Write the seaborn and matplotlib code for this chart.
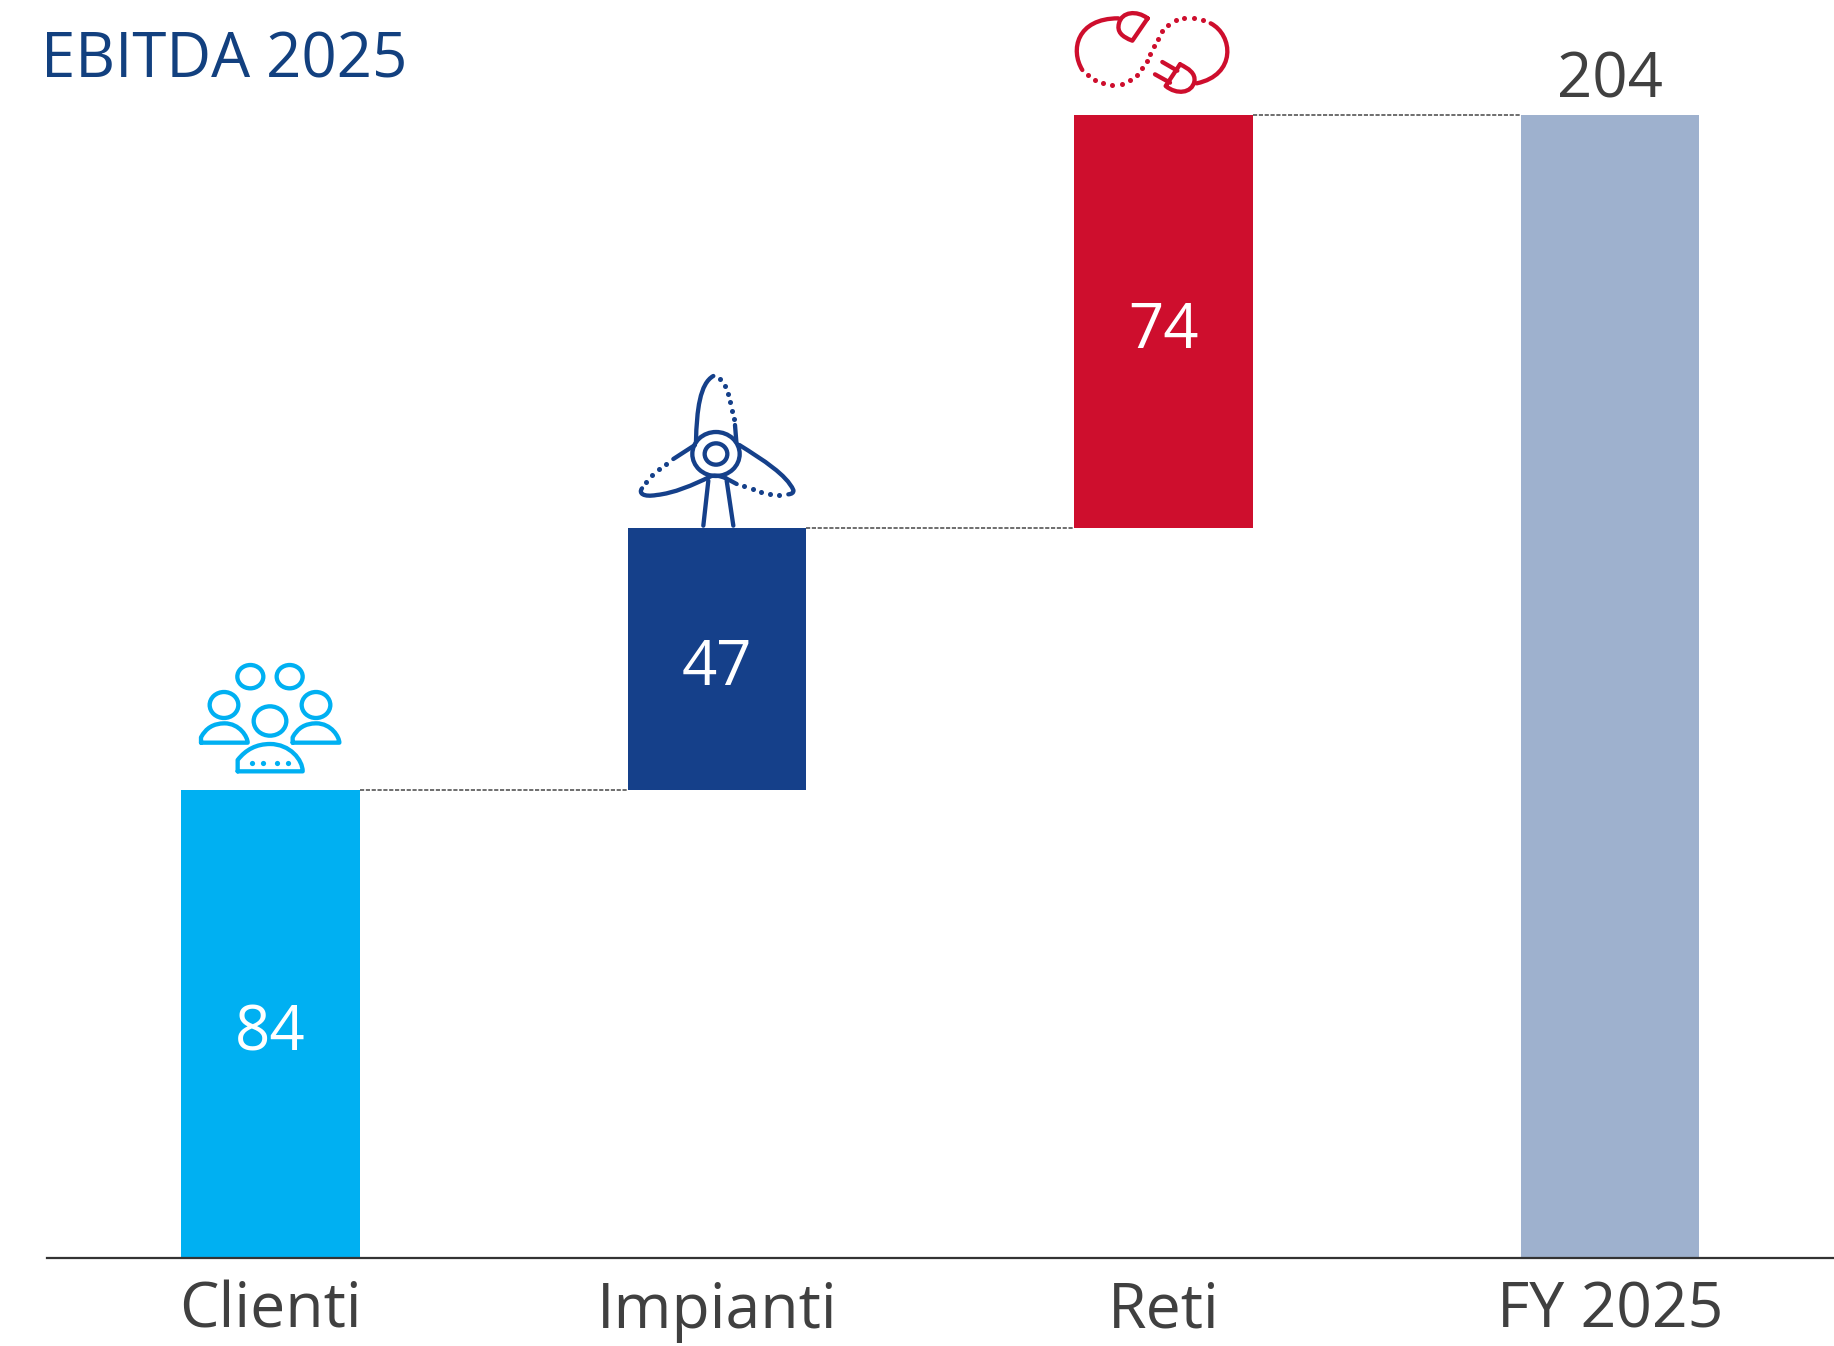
# EBITDA 2025 waterfall
import pandas as pd
import seaborn as sns
import matplotlib.pyplot as plt
from matplotlib.patches import Ellipse, PathPatch
from matplotlib.path import Path

categories = ['Clienti', 'Impianti', 'Reti', 'FY 2025']
# bar heights, the printed labels are rounded
values = [83.5, 46.7, 73.8, 204]
bottoms = [0, 83.5, 130.2, 0]
labels = ['84', '47', '74', '204']
colors = ['#00B0F2', '#15408A', '#CE0E2D', '#9EB1CE']

CYAN, NAVY, RED = colors[0], colors[1], colors[2]
TEXT = '#404040'
W, H = 1834, 1346

sns.set_style('white')
plt.rcParams['font.family'] = ['Open Sans', 'DejaVu Sans']

fig = plt.figure(figsize=(W / 100, H / 100), dpi=100)
ax = fig.add_axes([47 / W, (H - 1258) / H, (W - 47) / W, 1258 / H])

df = pd.DataFrame({'cat': categories, 'val': values, 'bottom': bottoms, 'color': colors})

# one call per bar because each has its own floor
for _, row in df.iterrows():
    sns.barplot(data=df[df['cat'] == row['cat']], x='cat', y='val', order=categories,
                color=row['color'], saturation=1, width=0.4, bottom=row['bottom'],
                errorbar=None, linewidth=0, ax=ax)

ax.set_xlim(-0.501, 3.502)
ax.set_ylim(0, 224.5)
ax.set_xlabel('')
ax.set_ylabel('')
ax.set_yticks([])
ax.set_xticks(range(len(categories)))
ax.set_xticklabels(categories, fontsize=45, color=TEXT)
ax.tick_params(axis='x', length=0, pad=16)
for side in ['top', 'left', 'right']:
    ax.spines[side].set_visible(False)
ax.spines['bottom'].set_color('#333333')
ax.spines['bottom'].set_linewidth(1.6)
ax.spines['bottom'].set_zorder(5)

# dashed connectors between bars
for i in range(len(categories) - 1):
    top = bottoms[i] + values[i]
    ax.plot([i + 0.2, i + 0.8], [top, top], color='#555555', lw=1.2,
            dashes=(2.5, 1), zorder=1)

# value labels
for i in range(3):
    ax.text(i, bottoms[i] + values[i] / 2 - 0.4, labels[i], color='white', fontsize=44.5,
            ha='center', va='center_baseline')
ax.text(3, values[3] + 0.4, labels[3], color=TEXT, fontsize=44.5, ha='center', va='bottom')

fig.text(41 / W, 1 - 77 / H, 'EBITDA 2025', color='#12407F', fontsize=44.5, ha='left', va='baseline')

# overlay in pixels for the three icons, points come from a 3x crop
ov = fig.add_axes([0, 0, 1, 1])
ov.set_xlim(0, W)
ov.set_ylim(H, 0)
ov.axis('off')
ov.patch.set_alpha(0)
M, L, C, Q = Path.MOVETO, Path.LINETO, Path.CURVE4, Path.CURVE3
LW = 3.1


def draw(org, pts, codes, color, lw=LW):
    xy = [(org[0] + x / 3, org[1] + y / 3) for x, y in pts]
    ov.add_patch(PathPatch(Path(xy, codes), fill=False, edgecolor=color, lw=lw,
                           capstyle='round', joinstyle='round'))


def ring(org, x, y, rx, ry, color, lw=LW):
    ov.add_patch(Ellipse((org[0] + x / 3, org[1] + y / 3), 2 * rx / 3, 2 * ry / 3,
                         fill=False, edgecolor=color, lw=lw))


def dots(org, pts, color, size=13):
    ov.scatter([org[0] + p[0] / 3 for p in pts], [org[1] + p[1] / 3 for p in pts],
               s=size, color=color, linewidths=0)


# people
o = (170, 640)
ring(o, 241, 110, 39, 35, CYAN)
ring(o, 359, 110, 39, 35, CYAN)
ring(o, 162, 195, 43, 39, CYAN)
ring(o, 438, 195, 43, 39, CYAN)
ring(o, 300, 243, 49, 44, CYAN)
dome = [M, L, Q, Q, C, C, C, L]
draw(o, [(93, 308), (93, 292), (115, 250), (163, 250), (210, 250), (233, 292), (233, 308), (93, 308)], dome, CYAN)
draw(o, [(368, 308), (368, 292), (390, 250), (438, 250), (485, 250), (508, 292), (508, 308), (368, 308)], dome, CYAN)
draw(o, [(203, 394), (203, 360), (240, 312), (300, 312), (360, 312), (398, 360), (398, 394), (203, 394)], dome, CYAN)
dots(o, [(245, 368), (280, 368), (321, 368), (355, 368)], CYAN, 14)

# turbine
o = (620, 360)
ring(o, 288, 282, 71, 66, NAVY)
ring(o, 288, 282, 34, 32, NAVY)
draw(o, [(228, 245), (230, 150), (240, 70), (280, 48)], [M, C, C, C], NAVY)
draw(o, [(345, 195), (349, 245)], [M, L], NAVY)
dots(o, [(301, 58), (315, 79), (324, 102), (331, 127), (337, 152), (341, 176)], NAVY)
draw(o, [(358, 255), (430, 300), (500, 345), (520, 390), (522, 398), (515, 402), (505, 403)],
     [M, C, C, C, C, C, C], NAVY)
dots(o, [(478, 406), (451, 403), (424, 396), (398, 388), (372, 379)], NAVY)
draw(o, [(350, 372), (318, 355)], [M, L], NAVY)
draw(o, [(225, 255), (160, 297)], [M, L], NAVY)
dots(o, [(139, 312), (117, 328), (97, 346), (79, 365)], NAVY)
draw(o, [(66, 385), (55, 400), (70, 412), (110, 405), (160, 400), (220, 375), (270, 350), (280, 345), (295, 345), (318, 355)],
     [M, C, C, C, C, C, C, C, C, C], NAVY)
draw(o, [(265, 362), (250, 497)], [M, L], NAVY)
draw(o, [(320, 362), (340, 497)], [M, L], NAVY)

# plugs
o = (1050, 0)
draw(o, [(97, 210), (60, 150), (80, 55), (205, 55)], [M, C, C, C], RED)
draw(o, [(293, 55), (247, 122), (215, 110), (200, 95), (207, 70), (215, 35), (260, 30), (293, 55)],
     [M, L, C, C, C, C, C, C], RED)
dots(o, [(113, 226), (135, 241), (160, 250), (187, 254), (215, 251), (240, 241), (261, 226),
         (277, 205), (290, 183), (301, 161), (312, 138), (323, 116), (337, 94), (355, 75),
         (377, 60), (403, 54), (431, 54), (458, 59)], RED)
draw(o, [(482, 70), (550, 105), (560, 225), (440, 250)], [M, C, C, C], RED)
draw(o, [(390, 193), (347, 258), (380, 285), (425, 280), (433, 245), (438, 220), (415, 205), (390, 193)],
     [M, L, C, C, C, C, C, C], RED)
draw(o, [(337, 186), (382, 212)], [M, L], RED)
draw(o, [(315, 223), (360, 248)], [M, L], RED)

fig.savefig('out.png', dpi=100)
